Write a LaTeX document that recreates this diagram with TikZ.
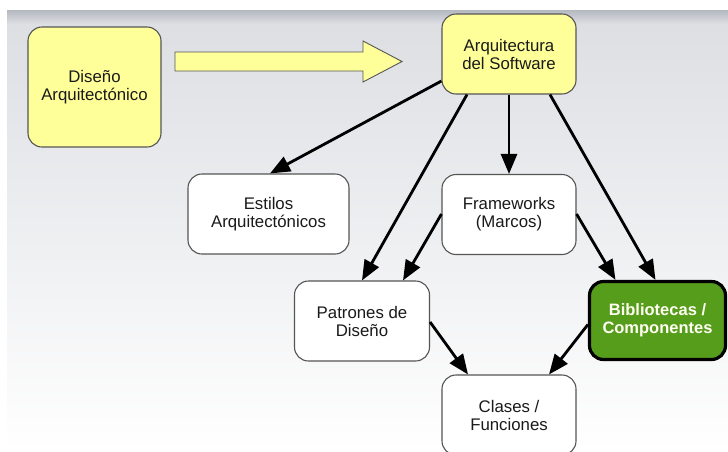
\documentclass[tikz,border=0pt]{standalone}
\usepackage{fontspec}
\setmainfont{Liberation Sans}
\usetikzlibrary{arrows.meta}
\definecolor{boxyellow}{HTML}{FFFF99}
\definecolor{boxgreen}{HTML}{579D1C}
\definecolor{edgegray}{HTML}{555555}
\definecolor{txt}{HTML}{1A1A1A}
\definecolor{bgtop}{HTML}{B4B8C0}
\definecolor{bgmid}{HTML}{DDDFE3}
\begin{document}
\begin{tikzpicture}[x=1pt,y=-1pt,
  box/.style={draw=edgegray,line width=1.1pt,rounded corners=14pt,fill=white,
    align=center,text=txt,inner sep=0pt,
    font=\fontsize{16.8}{18}\selectfont},
  ybox/.style={box,fill=boxyellow},
  gbox/.style={box,fill=boxgreen,draw=black,line width=3.2pt,text=white!95!yellow,
    font=\fontsize{16.5}{18}\selectfont\bfseries},
  conn/.style={line width=2.8pt,-{Triangle[length=20pt,width=16pt]}}]
\useasboundingbox (0,0) rectangle (728,451);
\fill[white] (0,0) rectangle (728,451);
\shade[top color=bgtop,bottom color=bgmid] (7,10) rectangle (728,24);
\shade[top color=bgmid,bottom color=white] (7,24) rectangle (728,451);

\node[ybox,minimum width=133pt,minimum height=120pt] (dis) at (94.5,87) {Diseño\\Arquitectónico};
\node[ybox,minimum width=134pt,minimum height=80pt] (arq) at (509,54) {Arquitectura\\del Software};
\node[box,minimum width=161pt,minimum height=80pt] (est) at (268.5,214) {Estilos\\Arquitectónicos};
\node[box,minimum width=134pt,minimum height=80pt] (fra) at (509,214.5) {Frameworks\\(Marcos)};
\node[box,minimum width=135pt,minimum height=80pt] (pat) at (362,321) {Patrones de\\Diseño};
\node[gbox,minimum width=136pt,minimum height=78pt] (bib) at (657.5,320.5) {Bibliotecas /\\Componentes};
\node[box,minimum width=134pt,minimum height=80pt] (cla) at (509,415) {Clases /\\Funciones};

% big yellow arrow
\coordinate (ba) at (175,52);
\filldraw[fill=boxyellow,draw=edgegray,line width=0.9pt]
  (ba) -- (363,52) -- (363,41) -- (402,61.5) -- (363,82) -- (363,71) -- (175,71) -- cycle;

\draw[conn] ([yshift=-27pt]arq.west) -- ([xshift=1.5pt]est.north);
\draw[conn] ([xshift=-42pt]arq.south) -- (pat.north);
\draw[conn] (arq.south) -- (fra.north);
\draw[conn] ([xshift=41pt]arq.south) -- ([xshift=-2pt]bib.north);
\draw[conn] ([yshift=0.5pt]fra.west) -- ([xshift=41pt]pat.north);
\draw[conn] ([yshift=0.5pt]fra.east) -- ([xshift=-42pt]bib.north);
\draw[conn] ([yshift=-1pt]pat.east) -- ([xshift=-41pt]cla.north);
\draw[conn] ([yshift=-4pt]bib.west) -- ([xshift=40pt]cla.north);
\end{tikzpicture}
\end{document}
